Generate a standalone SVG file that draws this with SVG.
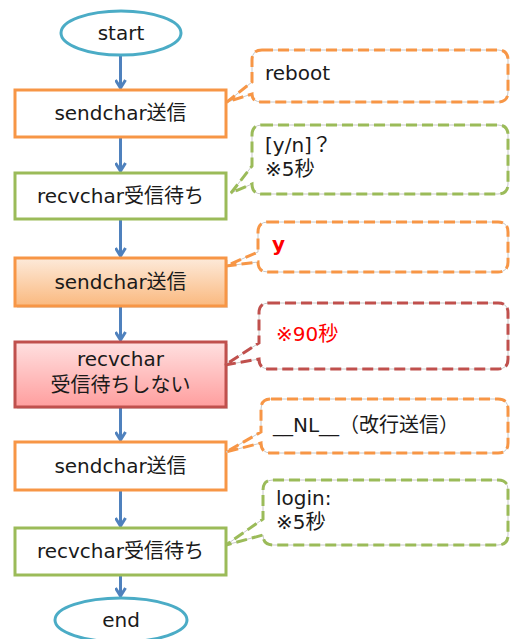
<svg xmlns="http://www.w3.org/2000/svg" width="511" height="639" viewBox="0 0 511 639">
<defs>
<style>
text{font-family:"DejaVu Sans","Noto Sans CJK JP",sans-serif;font-size:20px;fill:#1a1a1a}
.c{text-anchor:middle}
.ell{fill:#fff;stroke:#4bacc6;stroke-width:3}
.box{stroke-width:3}
.or{stroke:#f79646}
.gr{stroke:#9bbb59}
.rd{stroke:#c0504d}
.co{fill:none;stroke-width:3;stroke-dasharray:11 5}
.cu{fill:#fff;stroke:#c8c8c8;stroke-width:1}
.arr{stroke:#4f81bd;stroke-width:3;fill:none;marker-end:url(#ah)}
.red{fill:#ff0000}
</style>
<marker id="ah" viewBox="0 0 12 12" refX="10" refY="6" markerWidth="12" markerHeight="12" markerUnits="userSpaceOnUse" orient="auto">
<path d="M2,1 L10,6 L2,11" fill="none" stroke="#4f81bd" stroke-width="3"/>
</marker>
<linearGradient id="gOr" x1="0" y1="0" x2="0" y2="1">
<stop offset="0" stop-color="#fdeada"/>
<stop offset="1" stop-color="#fab97f"/>
</linearGradient>
<linearGradient id="gRd" x1="0" y1="0" x2="0" y2="1">
<stop offset="0" stop-color="#ffe0e0"/>
<stop offset="1" stop-color="#ff9e9e"/>
</linearGradient>
<path id="p1" d="M262,50 H498 Q508,50 508,60 V92 Q508,102 498,102 H262 Q252,102 252,94 L227,102 L252,82 V60 Q252,50 262,50 Z"/>
<path id="p2" d="M262,125 H498 Q508,125 508,135 V184 Q508,194 498,194 H262 Q252,194 252,184 L231,193 L252,166 V135 Q252,125 262,125 Z"/>
<path id="p3" d="M268,222 H498 Q508,222 508,232 V262 Q508,272 498,272 H268 Q258,272 258,262 L226,266 L258,252 V232 Q258,222 268,222 Z"/>
<path id="p4" d="M269,303 H498 Q508,303 508,313 V359 Q508,369 498,369 H269 Q259,369 259,359 L225,365 L259,343 V313 Q259,303 269,303 Z"/>
<path id="p5" d="M271,399 H498 Q508,399 508,409 V443 Q508,453 498,453 H271 Q261,453 261,443 L226,452 L261,432 V409 Q261,399 271,399 Z"/>
<path id="p6" d="M273,480 H498 Q508,480 508,490 V535 Q508,545 498,545 H273 Q263,545 263,535 L226,545 L263,519 V490 Q263,480 273,480 Z"/>
</defs>
<rect width="511" height="639" fill="#fff"/>

<g id="connectors">
<line class="arr" x1="120.5" y1="56" x2="120.5" y2="88"/>
<line class="arr" x1="120.5" y1="138" x2="120.5" y2="171"/>
<line class="arr" x1="120.5" y1="220" x2="120.5" y2="256"/>
<line class="arr" x1="120.5" y1="307" x2="120.5" y2="340"/>
<line class="arr" x1="120.5" y1="408" x2="120.5" y2="440"/>
<line class="arr" x1="120.5" y1="491" x2="120.5" y2="526"/>
<line class="arr" x1="120.5" y1="576" x2="120.5" y2="596"/>
</g>

<g id="start">
<ellipse class="ell" cx="121" cy="33" rx="60" ry="22"/>
<text class="c" x="121" y="40">start</text>
</g>

<g id="send1">
<rect class="box or" x="15" y="90" width="211" height="47" fill="#fff"/>
<text class="c" x="120.5" y="120">sendchar送信</text>
</g>

<g id="recv1">
<rect class="box gr" x="15" y="173" width="211" height="46" fill="#fff"/>
<text class="c" x="120.5" y="203">recvchar受信待ち</text>
</g>

<g id="send2">
<rect x="17" y="260" width="211" height="48" fill="#000" opacity="0.12"/>
<rect class="box or" x="15" y="258" width="211" height="48" fill="url(#gOr)"/>
<text class="c" x="120.5" y="289">sendchar送信</text>
</g>

<g id="recv2">
<rect x="17" y="344" width="211" height="65" fill="#000" opacity="0.12"/>
<rect class="box" x="15" y="342" width="211" height="65" fill="url(#gRd)" stroke="#c0504d" stroke-width="2"/>
<text class="c" x="120.5" y="366">recvchar</text>
<text class="c" x="120.5" y="392">受信待ちしない</text>
</g>

<g id="send3">
<rect class="box or" x="15" y="442" width="211" height="48" fill="#fff"/>
<text class="c" x="120.5" y="473">sendchar送信</text>
</g>

<g id="recv3">
<rect class="box gr" x="15" y="528" width="211" height="47" fill="#fff"/>
<text class="c" x="120.5" y="558">recvchar受信待ち</text>
</g>

<g id="end">
<ellipse class="ell" cx="121" cy="620" rx="66" ry="22"/>
<text class="c" x="121" y="627">end</text>
</g>

<g id="note1">
<use href="#p1" class="cu"/>
<use href="#p1" class="co or"/>
<text x="265" y="80">reboot</text>
</g>

<g id="note2">
<use href="#p2" class="cu"/>
<use href="#p2" class="co gr"/>
<text x="265" y="152">[y/n]？</text>
<text x="265" y="176">※5秒</text>
</g>

<g id="note3">
<use href="#p3" class="cu"/>
<use href="#p3" class="co or"/>
<text class="red" x="272" y="251" font-weight="bold">y</text>
</g>

<g id="note4">
<use href="#p4" class="cu"/>
<use href="#p4" class="co rd"/>
<text class="red" x="276" y="341">※90秒</text>
</g>

<g id="note5">
<use href="#p5" class="cu"/>
<use href="#p5" class="co or"/>
<text x="273" y="432">__NL__（改行送信）</text>
</g>

<g id="note6">
<use href="#p6" class="cu"/>
<use href="#p6" class="co gr"/>
<text x="276" y="505">login:</text>
<text x="276" y="529">※5秒</text>
</g>
</svg>
